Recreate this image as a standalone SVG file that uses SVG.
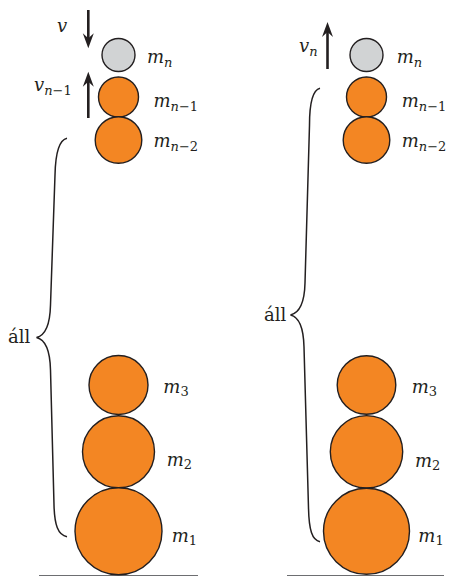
<svg xmlns="http://www.w3.org/2000/svg" width="449" height="576" viewBox="0 0 449 576">
<style>
.ball{fill:#f38623;stroke:#231f20;stroke-width:1.4}
.top{fill:#d1d3d4;stroke:#231f20;stroke-width:1.4}
text{font-family:"DejaVu Serif","Liberation Serif",serif;fill:#231f20}
.m{font-style:italic;font-size:18px}
.sub{font-size:13px}
.up{font-style:normal}
.lbl{font-size:18px}
.brace{fill:none;stroke:#231f20;stroke-width:1.5}
.arrow{fill:none;stroke:#231f20;stroke-width:2.6;marker-end:url(#head)}
.ground{stroke:#6d6e71;stroke-width:1.2}
</style>
<defs>
<marker id="head" markerUnits="userSpaceOnUse" viewBox="0 -6 17 12" markerWidth="17" markerHeight="12" refX="8" refY="0" orient="auto">
<path d="M16,0 L1,-5.5 L6,0 L1,5.5 Z" fill="#231f20"/>
</marker>
</defs>

<g id="ground">
<line class="ground" x1="39" y1="575.5" x2="198" y2="575.5"/>
<line class="ground" x1="287" y1="575.5" x2="444" y2="575.5"/>
</g>

<g id="left-mn"><circle class="top" cx="118.5" cy="55" r="16.5"/><text class="m" x="147" y="62.5">m<tspan class="sub" dy="4">n</tspan></text></g>
<g id="left-mn1"><circle class="ball" cx="118.5" cy="97" r="20"/><text class="m" x="153.5" y="107">m<tspan class="sub" dy="4">n</tspan><tspan class="sub up">−1</tspan></text></g>
<g id="left-mn2"><circle class="ball" cx="118.5" cy="140" r="23.3"/><text class="m" x="153.5" y="146.5">m<tspan class="sub" dy="4">n</tspan><tspan class="sub up">−2</tspan></text></g>
<g id="left-m3"><circle class="ball" cx="118.5" cy="385" r="29.5"/><text class="m" x="163.3" y="392.5">m<tspan class="sub up" dy="3">3</tspan></text></g>
<g id="left-m2"><circle class="ball" cx="118.5" cy="451.8" r="36"/><text class="m" x="166.7" y="466">m<tspan class="sub up" dy="3">2</tspan></text></g>
<g id="left-m1"><circle class="ball" cx="118.5" cy="531.3" r="43.5"/><text class="m" x="171.7" y="541.5">m<tspan class="sub up" dy="3">1</tspan></text></g>

<g id="right-mn"><circle class="top" cx="366.5" cy="55" r="16.5"/><text class="m" x="396.7" y="63">m<tspan class="sub" dy="4">n</tspan></text></g>
<g id="right-mn1"><circle class="ball" cx="366.5" cy="97" r="20"/><text class="m" x="401.7" y="107">m<tspan class="sub" dy="4">n</tspan><tspan class="sub up">−1</tspan></text></g>
<g id="right-mn2"><circle class="ball" cx="366.5" cy="140" r="23.3"/><text class="m" x="401.7" y="146.5">m<tspan class="sub" dy="4">n</tspan><tspan class="sub up">−2</tspan></text></g>
<g id="right-m3"><circle class="ball" cx="366.5" cy="385" r="29.3"/><text class="m" x="411.7" y="393">m<tspan class="sub up" dy="3">3</tspan></text></g>
<g id="right-m2"><circle class="ball" cx="366.5" cy="451.8" r="36.2"/><text class="m" x="415" y="467">m<tspan class="sub up" dy="3">2</tspan></text></g>
<g id="right-m1"><circle class="ball" cx="366.5" cy="531.3" r="43"/><text class="m" x="418.3" y="542">m<tspan class="sub up" dy="3">1</tspan></text></g>

<g id="connectors">
<line class="arrow" x1="88.3" y1="10" x2="88.3" y2="40.3"/>
<line class="arrow" x1="88.3" y1="118" x2="88.3" y2="79.7"/>
<line class="arrow" x1="327.5" y1="69" x2="327.5" y2="30"/>
<path class="brace" d="M67,138.3 C59,140 55.5,152 55,175 L50.5,305 C50,326 45,335.5 36.5,337.5 C45,339.5 50,349 50.5,370 L54,505 C54.5,525 58,535 67,536.7"/>
<path class="brace" d="M320,88.3 C313,90 309.5,103 309.5,125 L305,283 C304.5,304 299,313 290.5,315 C299,317 303.5,326 304,347 L308.5,508 C309,530 312,540 320,541.7"/>
</g>

<g id="labels">
<text class="m" x="57" y="31.5">v</text>
<text class="m" x="34" y="91">v<tspan class="sub" dy="4">n</tspan><tspan class="sub up">−1</tspan></text>
<text class="m" x="299" y="52">v<tspan class="sub" dy="4">n</tspan></text>
<text class="lbl" x="8" y="342.7">áll</text>
<text class="lbl" x="264" y="320.5">áll</text>
</g>
</svg>
